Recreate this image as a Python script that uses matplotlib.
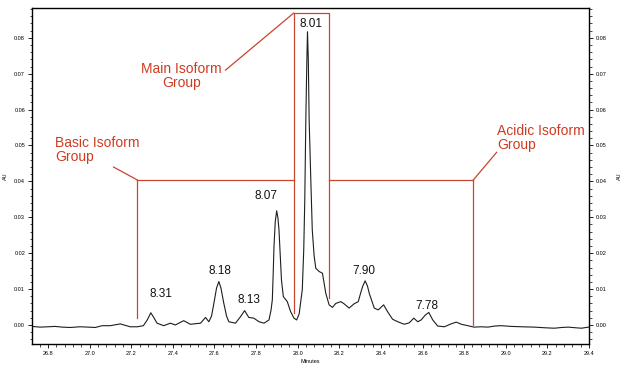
import matplotlib
matplotlib.use("Agg")
import matplotlib.pyplot as plt
from matplotlib.ticker import MultipleLocator, FormatStrFormatter

# ---- data ----
time_min = [26.723, 26.762, 26.800, 26.834, 26.868, 26.906, 26.954, 26.993, 27.027, 27.060,
            27.099, 27.147, 27.195, 27.229, 27.258, 27.277, 27.294, 27.309, 27.324, 27.356,
            27.388, 27.412, 27.452, 27.484, 27.533, 27.557, 27.573, 27.586, 27.597, 27.610,
            27.621, 27.631, 27.645, 27.658, 27.669, 27.701, 27.725, 27.745, 27.765, 27.789,
            27.814, 27.838, 27.862, 27.872, 27.878, 27.882, 27.886, 27.892, 27.899, 27.905,
            27.910, 27.916, 27.922, 27.931, 27.950, 27.966, 27.982, 27.995, 28.007, 28.022,
            28.029, 28.034, 28.039, 28.044, 28.047, 28.051, 28.055, 28.063, 28.070, 28.079,
            28.087, 28.103, 28.119, 28.135, 28.151, 28.167, 28.183, 28.207, 28.223, 28.247,
            28.271, 28.291, 28.304, 28.312, 28.324, 28.335, 28.344, 28.368, 28.387, 28.413,
            28.432, 28.456, 28.481, 28.512, 28.536, 28.558, 28.577, 28.593, 28.614, 28.630,
            28.649, 28.673, 28.705, 28.737, 28.762, 28.786, 28.818, 28.847, 28.882, 28.914,
            28.946, 28.978, 29.027, 29.075, 29.137, 29.195, 29.234, 29.268, 29.301, 29.340,
            29.364, 29.407]
absorbance = [-0.0004, -0.0006, -0.0005, -0.0004, -0.0006, -0.0007, -0.0005, -0.0006, -0.0007, -0.0002,
              -0.0002, 0.0003, -0.0005, -0.0005, -0.0002, 0.0014, 0.0034, 0.0020, 0.0005, -0.0002,
              0.0005, 0.0000, 0.0012, 0.0002, 0.0005, 0.0021, 0.0009, 0.0025, 0.0060, 0.0103,
              0.0121, 0.0103, 0.0060, 0.0025, 0.0009, 0.0005, 0.0023, 0.0040, 0.0021, 0.0019,
              0.0009, 0.0005, 0.0014, 0.0042, 0.0070, 0.0139, 0.0218, 0.0287, 0.0318, 0.0298,
              0.0265, 0.0195, 0.0125, 0.0079, 0.0065, 0.0037, 0.0019, 0.0014, 0.0031, 0.0098,
              0.0209, 0.0348, 0.0571, 0.0738, 0.0817, 0.0738, 0.0571, 0.0404, 0.0265, 0.0192,
              0.0158, 0.0149, 0.0144, 0.0088, 0.0056, 0.0049, 0.0060, 0.0065, 0.0059, 0.0047,
              0.0059, 0.0065, 0.0092, 0.0107, 0.0123, 0.0109, 0.0088, 0.0047, 0.0042, 0.0056,
              0.0037, 0.0016, 0.0009, 0.0002, 0.0006, 0.0019, 0.0009, 0.0014, 0.0028, 0.0035,
              0.0014, -0.0003, -0.0005, 0.0003, 0.0008, 0.0002, -0.0002, -0.0006, -0.0005, -0.0006,
              -0.0003, -0.0002, -0.0004, -0.0005, -0.0006, -0.0008, -0.0009, -0.0007, -0.0006, -0.0008,
              -0.0009, -0.0005]

peak_labels = ["8.31", "8.18", "8.13", "8.07", "8.01", "7.90", "7.78"]
peak_label_x = [27.343, 27.624, 27.765, 27.846, 28.066, 28.320, 28.622]
peak_label_y = [0.0086, 0.0151, 0.0070, 0.0359, 0.0838, 0.0151, 0.0054]

# isoform group brackets (time boundaries and heights)
basic_start, main_start, main_end, acidic_end = 27.229, 27.981, 28.150, 28.844
group_level = 0.0404
main_top = 0.0869

RED = "#cf3b22"
LINE_RED = "#c8452f"

plt.rcParams['font.family'] = ['Liberation Sans', 'DejaVu Sans']

fig = plt.figure(figsize=(6.24, 3.69), dpi=100)
ax = fig.add_axes([32/624, 1-344/369, (589-32)/624, (344-8)/369])

ax.plot(time_min, absorbance, color="#1e1e1e", lw=0.8)

ax.set_xlim(26.723, 29.40)
ax.set_ylim(-0.0053, 0.0883)

ax.xaxis.set_major_locator(MultipleLocator(0.2))
ax.xaxis.set_minor_locator(MultipleLocator(0.04))
ax.yaxis.set_major_locator(MultipleLocator(0.01))
ax.yaxis.set_minor_locator(MultipleLocator(0.002))
ax.xaxis.set_major_formatter(FormatStrFormatter('%.1f'))
ax.yaxis.set_major_formatter(FormatStrFormatter('%.2f'))

ax.tick_params(axis='both', which='major', labelsize=4, length=3, width=0.6, pad=2,
               direction='out')
ax.tick_params(axis='both', which='minor', length=1.8, width=0.5, direction='out')
ax.tick_params(axis='y', which='both', left=True, right=True, labelleft=True, labelright=True)
ax.tick_params(axis='x', which='both', top=False)
for s in ax.spines.values():
    s.set_linewidth(1.0)

ax.set_xlabel("Minutes", fontsize=4, labelpad=2)
ax.xaxis.set_label_coords(0.5, -0.045)
ax.text(-0.047, 0.5, "AU", transform=ax.transAxes, rotation=90, fontsize=4,
        ha='center', va='center')
ax.text(1.055, 0.5, "AU", transform=ax.transAxes, rotation=90, fontsize=4,
        ha='center', va='center')

# peak labels
for lab, lx, ly in zip(peak_labels, peak_label_x, peak_label_y):
    ax.text(lx, ly, lab, fontsize=8.5, ha='center', va='center', color='#111111')

# group brackets
lw = 0.9
ax.plot([basic_start, basic_start], [0.0020, group_level], color=LINE_RED, lw=lw)
ax.plot([basic_start, main_start], [group_level, group_level], color=LINE_RED, lw=lw)
ax.plot([main_start, main_start, main_end, main_end], [0.0033, main_top, main_top, 0.0075],
        color=LINE_RED, lw=lw)
ax.plot([main_end, acidic_end], [group_level, group_level], color=LINE_RED, lw=lw)
ax.plot([acidic_end, acidic_end], [group_level, 0.0], color=LINE_RED, lw=lw)

# callout leader lines
ax.plot([27.115, basic_start], [0.0440, group_level], color=LINE_RED, lw=lw)
ax.plot([27.653, main_start], [0.0710, main_top], color=LINE_RED, lw=lw)
ax.plot([28.956, acidic_end], [0.0481, group_level], color=LINE_RED, lw=lw)

ax.text(27.440, 0.0694, "Main Isoform\nGroup", fontsize=10, color=RED, ha='center',
        va='center', linespacing=1.0)
ax.text(26.833, 0.0487, "Basic Isoform\nGroup", fontsize=10, color=RED, ha='left',
        va='center', linespacing=1.0)
ax.text(28.957, 0.0521, "Acidic Isoform\nGroup", fontsize=10, color=RED, ha='left',
        va='center', linespacing=1.0)

fig.savefig("out.png", dpi=100)
